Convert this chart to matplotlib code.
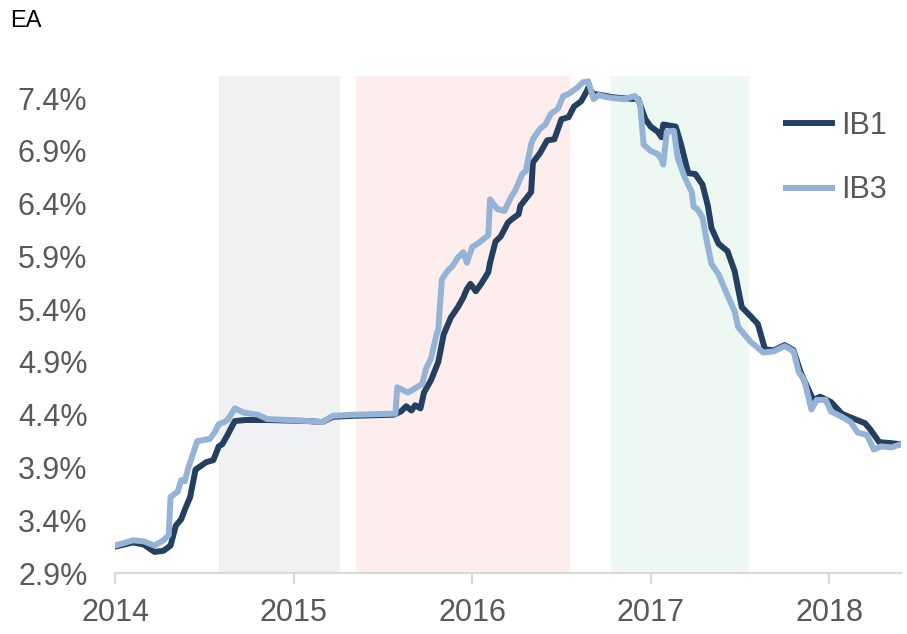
import matplotlib
matplotlib.use("Agg")
import matplotlib.pyplot as plt
import numpy as np

plt.rcParams['font.family'] = ['Liberation Sans', 'DejaVu Sans']

# IB1 (dark) - decimal year, rate in %
ib1_t = [2014.00, 2014.10, 2014.16, 2014.22, 2014.27, 2014.31, 2014.34, 2014.37, 2014.39,
         2014.42, 2014.45, 2014.51, 2014.55, 2014.58, 2014.60, 2014.63, 2014.67, 2014.73,
         2014.80, 2014.85, 2015.08, 2015.16, 2015.22, 2015.34, 2015.56, 2015.60, 2015.63,
         2015.66, 2015.68, 2015.71, 2015.73, 2015.77, 2015.81, 2015.84, 2015.88, 2015.92,
         2015.95, 2015.97, 2015.99, 2016.02, 2016.05, 2016.09, 2016.10, 2016.13, 2016.16,
         2016.20, 2016.22, 2016.26, 2016.27, 2016.33, 2016.34, 2016.38, 2016.42, 2016.46,
         2016.50, 2016.54, 2016.57, 2016.61, 2016.64, 2016.65, 2016.68, 2016.72, 2016.78,
         2016.83, 2016.93, 2016.97, 2017.00, 2017.04, 2017.06, 2017.07, 2017.14, 2017.17,
         2017.21, 2017.25, 2017.29, 2017.32, 2017.34, 2017.38, 2017.43, 2017.47, 2017.51,
         2017.55, 2017.60, 2017.64, 2017.69, 2017.75, 2017.80, 2017.84, 2017.91, 2017.95,
         2018.01, 2018.07, 2018.14, 2018.20, 2018.23, 2018.28, 2018.35, 2018.40]
ib1_v = [3.15, 3.19, 3.17, 3.10, 3.11, 3.16, 3.35, 3.41, 3.50,
         3.62, 3.88, 3.95, 3.97, 4.10, 4.12, 4.21, 4.34, 4.35,
         4.35, 4.35, 4.34, 4.33, 4.38, 4.39, 4.40, 4.43, 4.48,
         4.44, 4.49, 4.46, 4.61, 4.73, 4.90, 5.16, 5.32, 5.42,
         5.51, 5.59, 5.64, 5.57, 5.64, 5.75, 5.84, 6.04, 6.09,
         6.22, 6.25, 6.30, 6.38, 6.51, 6.79, 6.88, 7.00, 7.01,
         7.20, 7.22, 7.32, 7.37, 7.46, 7.50, 7.44, 7.43, 7.41,
         7.40, 7.39, 7.20, 7.13, 7.08, 7.03, 7.15, 7.13, 6.96,
         6.69, 6.68, 6.58, 6.38, 6.17, 6.02, 5.95, 5.76, 5.42,
         5.35, 5.26, 5.02, 5.01, 5.06, 5.01, 4.80, 4.54, 4.57,
         4.52, 4.41, 4.36, 4.32, 4.26, 4.14, 4.13, 4.12]

# IB3 (light)
ib3_t = [2014.00, 2014.10, 2014.16, 2014.22, 2014.27, 2014.30, 2014.31, 2014.35, 2014.37,
         2014.39, 2014.41, 2014.46, 2014.53, 2014.56, 2014.58, 2014.61, 2014.63, 2014.67,
         2014.72, 2014.80, 2014.85, 2015.08, 2015.16, 2015.22, 2015.34, 2015.57, 2015.58,
         2015.64, 2015.69, 2015.72, 2015.74, 2015.77, 2015.80, 2015.81, 2015.83, 2015.86,
         2015.89, 2015.92, 2015.95, 2015.97, 2016.00, 2016.03, 2016.06, 2016.09, 2016.10,
         2016.14, 2016.18, 2016.22, 2016.24, 2016.28, 2016.30, 2016.33, 2016.34, 2016.38,
         2016.41, 2016.44, 2016.48, 2016.51, 2016.54, 2016.59, 2016.62, 2016.65, 2016.68,
         2016.71, 2016.75, 2016.79, 2016.85, 2016.91, 2016.94, 2016.96, 2017.00, 2017.04,
         2017.06, 2017.07, 2017.09, 2017.13, 2017.15, 2017.19, 2017.23, 2017.24, 2017.26,
         2017.29, 2017.31, 2017.34, 2017.38, 2017.42, 2017.47, 2017.49, 2017.56, 2017.63,
         2017.69, 2017.75, 2017.80, 2017.83, 2017.86, 2017.90, 2017.93, 2017.98, 2018.01,
         2018.07, 2018.12, 2018.16, 2018.21, 2018.25, 2018.29, 2018.35, 2018.40]
ib3_v = [3.16, 3.21, 3.20, 3.16, 3.21, 3.26, 3.62, 3.67, 3.78,
         3.77, 3.90, 4.15, 4.17, 4.24, 4.31, 4.33, 4.35, 4.46,
         4.42, 4.40, 4.36, 4.34, 4.33, 4.39, 4.40, 4.41, 4.66,
         4.61, 4.66, 4.69, 4.83, 4.94, 5.16, 5.21, 5.68, 5.76,
         5.81, 5.89, 5.94, 5.84, 5.99, 6.02, 6.06, 6.10, 6.44,
         6.35, 6.33, 6.47, 6.52, 6.68, 6.71, 6.96, 7.01, 7.11,
         7.15, 7.25, 7.30, 7.42, 7.44, 7.50, 7.55, 7.56, 7.39,
         7.43, 7.41, 7.40, 7.39, 7.42, 7.36, 6.96, 6.90, 6.87,
         6.82, 6.77, 7.08, 7.09, 6.84, 6.65, 6.51, 6.37, 6.35,
         6.27, 6.08, 5.83, 5.73, 5.57, 5.38, 5.23, 5.09, 4.99,
         5.00, 5.05, 5.00, 4.80, 4.73, 4.45, 4.54, 4.54, 4.43,
         4.38, 4.33, 4.23, 4.21, 4.07, 4.10, 4.09, 4.12]

# shaded periods (decimal years)
spans = [(2014.58, 2015.26, '#f0f1f3'),
         (2015.35, 2016.55, '#fdeeed'),
         (2016.78, 2017.55, '#eef8f2')]

yticks = [2.9, 3.4, 3.9, 4.4, 4.9, 5.4, 5.9, 6.4, 6.9, 7.4]
xticks = [2014, 2015, 2016, 2017, 2018]

fig = plt.figure(figsize=(9.07, 6.34), dpi=100)
ax = fig.add_axes([0.127, 0.0962, 0.866, 0.784])

for a, b, c in spans:
    ax.axvspan(a, b, color=c, lw=0, zorder=0)

ax.plot(ib1_t, ib1_v, color='#243f60', lw=4.3, label='IB1', zorder=2,
        solid_joinstyle='round')
ax.plot(ib3_t, ib3_v, color='#95b3d7', lw=4.3, label='IB3', zorder=3,
        solid_joinstyle='round')

ax.set_xlim(2014.0, 2018.4)
ax.set_ylim(2.9, 7.61)
ax.set_yticks(yticks)
ax.set_yticklabels(['%.1f%%' % v for v in yticks])
ax.set_xticks(xticks)
ax.set_xticklabels([str(v) for v in xticks])

for s in ['top', 'right', 'left']:
    ax.spines[s].set_visible(False)
ax.spines['bottom'].set_color('#d9d9d9')
ax.spines['bottom'].set_linewidth(1.5)
ax.tick_params(axis='y', length=0, pad=20, labelsize=22, labelcolor='#595959')
ax.tick_params(axis='x', length=8, width=1.5, color='#d9d9d9', pad=10,
               labelsize=22, labelcolor='#595959')

leg = ax.legend(loc='upper right', bbox_to_anchor=(1.017, 0.985), frameon=False,
                fontsize=22, handlelength=1.5, handletextpad=0.3,
                labelspacing=1.13)
for t in leg.get_texts():
    t.set_color('#595959')

fig.text(0.011, 0.967, 'EA', fontsize=17, color='black', va='center')

fig.savefig('out.png', dpi=100)
